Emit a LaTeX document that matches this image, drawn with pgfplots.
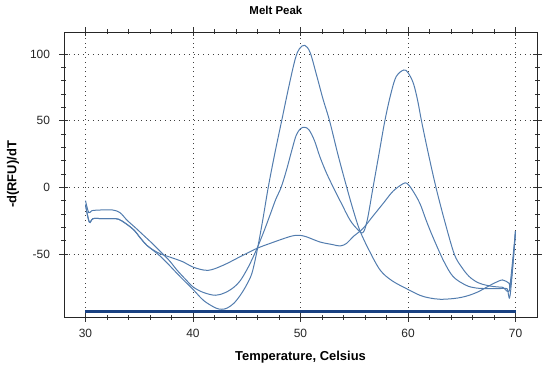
\documentclass[border=0pt]{standalone}
\usepackage{fontspec}
\setmainfont{Liberation Sans}
\usepackage{pgfplots}
\pgfplotsset{compat=1.18}
\definecolor{curve}{RGB}{82,124,174}
\definecolor{flat}{RGB}{25,65,130}
\begin{document}
\begin{tikzpicture}
\useasboundingbox (-64bp,-51bp) rectangle (486bp,317bp);
\begin{axis}[
 at={(0,0)}, anchor=south west,
 scale only axis, width=473bp, height=285bp,
 xmin=28, xmax=72, ymin=-97.3, ymax=116.5,
 xtick={30,40,...,70}, ytick={-50,0,50,100},
 minor x tick num=4, minor y tick num=4,
 tick align=center, major tick length=9bp, minor tick length=5bp,
 tick style={black!80, line width=0.6bp},
 grid=major,
 major grid style={black!75, line width=0.6bp, dash pattern=on 0.8bp off 4bp},
 axis line style={black!85, line width=0.8bp},
 tick label style={font=\fontsize{12}{14}\selectfont, text=black!85},
 /pgf/number format/assume math mode=true,
 xticklabel style={yshift=-4bp},
 yticklabel style={xshift=-6bp},
 xlabel={Temperature, Celsius}, ylabel={-d(RFU)/dT},
 label style={font=\fontsize{13}{15}\selectfont\bfseries},
 xlabel style={at={(axis description cs:0.5,-0.1404)}, anchor=center},
 ylabel style={at={(axis description cs:-0.1078,0.5)}, anchor=center},
 title={Melt Peak},
 title style={font=\fontsize{11.5}{13}\selectfont\bfseries, at={(axis description cs:0.448,1.0561)}, anchor=center},
 clip=true,
]
% flat baseline
\addplot[flat, line width=2.6bp] coordinates {(30,-93) (70,-93)};
% curve A: deep minimum, highest peak at 50
\addplot[curve, line width=1bp, smooth, tension=0.55] coordinates {
(30,-13) (30.35,-26) (30.7,-23.5) (31.5,-23.5) (32.5,-23.5) (33.1,-24) (33.8,-27.5)
(34.5,-32) (35.1,-38) (35.7,-43.5) (36.4,-48) (37.0,-52) (37.8,-58.5) (38.5,-64.5)
(39.3,-71) (40.05,-77) (41,-85) (42.1,-90.5) (42.7,-91.5) (43.2,-90.5) (43.8,-87)
(44.4,-81) (45.0,-73) (45.5,-64) (46.0,-46) (46.5,-24) (47.0,0) (47.6,25) (48.25,50)
(48.9,75) (49.5,96) (49.9,104) (50.4,106.5) (50.9,101) (51.5,84) (52.1,66) (52.7,50)
(53.5,24) (54.3,0) (54.9,-17) (55.5,-32) (56.3,-46) (57.4,-62) (58.5,-70) (59.85,-76)
(61.1,-81) (62,-83) (63,-84) (64.2,-83.5) (65.0,-82.5) (65.7,-81) (66.5,-78.5)
(67.3,-75) (68.0,-72) (68.8,-69.5) (69.4,-72) (69.5,-73) (70,-33)};
% curve B: medium peak at 50, large peak at 60
\addplot[curve, line width=1bp, smooth, tension=0.55] coordinates {
(30,-10) (30.3,-19) (30.6,-17.5) (31.5,-17) (32.5,-17) (33.2,-19) (33.9,-25)
(34.6,-30) (35.4,-36) (36.2,-42) (37.0,-48.5) (37.8,-55) (38.5,-62) (39.3,-69)
(40.05,-75) (41,-79) (42.1,-81) (43,-79) (43.8,-75) (44.4,-70) (45.0,-62) (45.5,-54)
(46.0,-45) (46.6,-33) (47.2,-20) (47.7,-9) (48.2,0) (48.7,13) (49.2,28) (49.6,39)
(50.0,44) (50.4,45) (50.8,43) (51.3,35) (51.8,23) (52.4,11) (53.05,0) (53.8,-12)
(54.6,-24.5) (55.3,-31.5) (55.8,-34) (56.2,-25) (56.75,0) (57.3,25) (57.85,50)
(58.4,70) (58.9,83) (59.6,88) (60.0,86) (60.5,78) (60.9,65) (61.25,50) (61.9,25)
(62.6,0) (63.4,-25) (64.3,-50) (65.0,-60) (65.7,-67) (66.5,-71.5) (67.3,-73.5)
(68.0,-74.5) (68.8,-75) (69.5,-75.5) (70,-33)};
% curve D: shallow minimum, small bump at 50, small peak at 60
\addplot[curve, line width=1bp, smooth, tension=0.55] coordinates {
(30,-13) (30.35,-26) (30.7,-23.5) (31.5,-23.5) (32.5,-23.5) (33.1,-24) (33.8,-27.5)
(34.5,-32) (35.1,-38) (35.7,-43.5) (36.4,-47.5) (37.0,-50) (37.9,-52.5) (39.1,-56)
(40.05,-60) (41.4,-62.3) (42.8,-58.5) (44.4,-52) (45.9,-46) (47.2,-42) (49.0,-37)
(49.8,-36) (50.5,-37) (51.8,-41) (53.0,-43) (53.7,-44) (54.3,-42) (54.9,-37)
(55.8,-31) (56.7,-22) (57.7,-12) (58.6,-3) (59.5,2.5) (59.9,3) (60.4,-2) (61.1,-12)
(61.7,-25) (62.3,-37) (63.3,-55) (64.2,-67) (65.4,-73.5) (66.3,-75.5) (67.3,-76)
(68.5,-76) (69.2,-76) (69.5,-81) (70,-33)};
\end{axis}
\end{tikzpicture}
\end{document}
